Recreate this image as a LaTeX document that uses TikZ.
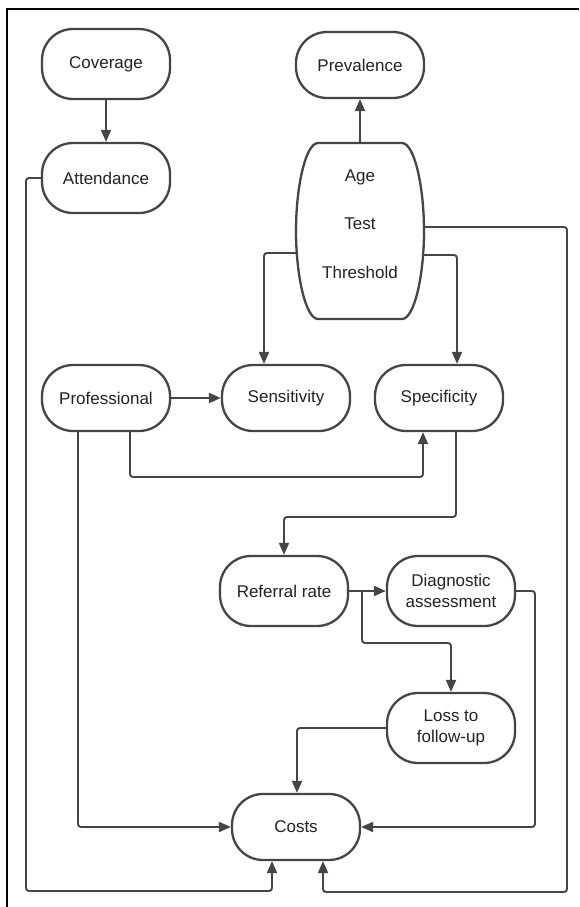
\documentclass[tikz,border=0pt]{standalone}
\usepackage{fontspec}
\setmainfont{Liberation Sans}
\usetikzlibrary{arrows.meta}
\definecolor{ln}{HTML}{454545}
\definecolor{tx}{HTML}{222222}
\begin{document}
\begin{tikzpicture}[x=1pt,y=-1pt,
 box/.style={draw=ln, line width=2.3pt, rounded corners=31pt, minimum width=128pt, minimum height=70pt, inner sep=0pt, font=\fontsize{17}{21}\selectfont, align=center, text=tx},
 lowbox/.style={box, minimum height=66pt},
 lbl/.style={font=\fontsize{17}{21}\selectfont, text=tx, inner sep=0pt},
 conn/.style={draw=ln, line width=1.9pt, rounded corners=3pt, -{Triangle[length=12pt,width=10pt]}}]
\useasboundingbox (0,0) rectangle (579,907);
\fill[white] (0,0) rectangle (579,907);
\draw[line width=2.6pt] (7,907) -- (7,9) -- (579,9);

% nodes
\node[box] (cov) at (106,64) {Coverage};
\node[box] (att) at (106,178) {Attendance};
\node[lowbox] (prev) at (360,65) {Prevalence};
\node[lowbox] (prof) at (106,398) {Professional};
\node[lowbox] (sens) at (286,398) {Sensitivity};
\node[lowbox] (spec) at (439,398) {Specificity};
\node[box] (ref) at (284,591) {Referral rate};
\node[box] (diag) at (451,591) {Diagnostic\\assessment};
\node[box] (loss) at (451,728) {Loss to\\follow-up};
\node[lowbox] (cost) at (296,827) {Costs};

% barrel node
\draw[ln, line width=2.3pt, fill=white] (318,143) -- (402,143)
  .. controls (414,143) and (424,185) .. (424,231)
  .. controls (424,277) and (414,319) .. (402,319) -- (318,319)
  .. controls (306,319) and (296,277) .. (296,231)
  .. controls (296,185) and (306,143) .. (318,143) -- cycle;
\node[minimum width=128pt, minimum height=176pt, inner sep=0pt] (atl) at (360,231) {};
\node[lbl] (tAge) at (360,177) {Age};
\node[lbl] (tTest) at (360,224) {Test};
\node[lbl] (tThr) at (360,272) {Threshold};

% coordinates for free ends / bends
\coordinate (bL) at (297,253);
\coordinate (bR1) at (424,227);
\coordinate (bR2) at (423.5,255);
\coordinate (aL) at (26,891);
\coordinate (rB) at (567,892);
\coordinate (dR) at (535,827);
\coordinate (br) at (362,591);
\coordinate (pb) at (130,477);
\coordinate (pc) at (423,477);
\coordinate (sb) at (456,517);
\coordinate (sr) at (284,517);
\coordinate (rb) at (362,643);
\coordinate (lb) at (451,643);

% connectors
\draw[conn] (cov) -- (att);
\draw[conn] (atl.north) -- (prev);
\draw[conn] (bL) -| ([xshift=-22pt]sens.north);
\draw[conn] (bR2) -| ([xshift=18pt]spec.north);
\draw[conn] (prof) -- (sens);
\draw[conn] ([xshift=24pt]prof.south) -- (pb) -- (pc) -- ([xshift=-16pt]spec.south);
\draw[conn] ([xshift=-28pt]prof.south) |- (cost.west);
\draw[conn] ([xshift=17pt]spec.south) -- (sb) -- (sr) -- (ref.north);
\draw[conn] (ref) -- (diag);
\draw[conn] (br) -- (rb) -- (lb) -- (loss.north);
\draw[conn] (loss.west) -| ([xshift=1pt]cost.north);
\draw[conn] (diag.east) -| (dR) -- (cost.east);
\draw[conn] (att.west) -| (aL) -| ([xshift=-24pt]cost.south);
\draw[conn] (bR1) -| (rB) -| ([xshift=27pt]cost.south);
\end{tikzpicture}
\end{document}
